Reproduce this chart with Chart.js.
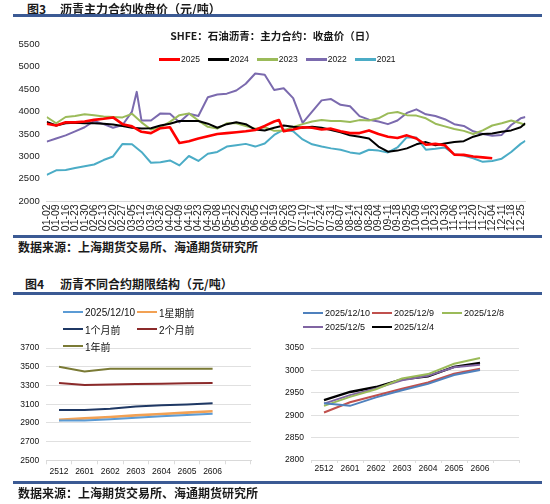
<!DOCTYPE html>
<html><head><meta charset="utf-8">
<script src="https://cdn.jsdelivr.net/npm/chart.js@4.4.1/dist/chart.umd.min.js"></script>
<style>
html,body{margin:0;padding:0;background:#fff;}
body{width:550px;height:504px;position:relative;overflow:hidden;font-family:"Liberation Sans",Arial,"Noto Sans CJK SC",sans-serif;color:#111;}
.hd{position:absolute;font-family:"Noto Sans CJK SC",sans-serif;font-weight:bold;font-size:12px;line-height:14px;color:#1a1a1a;white-space:nowrap;z-index:2;}
.rule{position:absolute;left:13px;width:529px;height:3px;background:#3b5a94;z-index:2;}
canvas{position:absolute;z-index:1;}
.lg{position:absolute;z-index:2;white-space:nowrap;}
.lg .it{display:flex;align-items:center;}
.lg .sw{display:inline-block;}
#lg1{display:flex;align-items:center;height:12px;left:159px;top:53px;font-size:8.5px;}
#lg1 .sw{width:21px;height:3px;margin-right:1px;}
#lg1 .it{margin-right:8px;}
#lg2{left:63px;top:303.5px;display:grid;grid-template-columns:74px 74px;grid-auto-rows:17px;font-size:10px;}
#lg2 .sw{width:20px;height:2px;margin-right:2px;}
#lg3{left:303px;top:305.7px;display:grid;grid-template-columns:69px 70px 70px;grid-auto-rows:14px;font-size:9px;}
#lg3 .sw{width:20px;height:2px;margin-right:2px;}
</style></head><body>
<div class="hd" style="left:27px;top:2px;">图3</div>
<div class="hd" style="left:60px;top:2px;">沥青主力合约收盘价（元/吨）</div>
<div class="rule" style="top:14px;"></div>
<div class="hd" style="left:0;width:546px;text-align:center;top:29px;font-size:10.5px;">SHFE：石油沥青：主力合约：收盘价（日）</div>
<div id="lg1" class="lg"></div>
<canvas id="c1" width="550" height="204" style="left:0;top:30px;width:550px;height:204px;"></canvas>
<div class="rule" style="top:235px;"></div>
<div class="hd" style="left:18px;top:240px;">数据来源：上海期货交易所、海通期货研究所</div>

<div class="hd" style="left:25px;top:277px;">图4</div>
<div class="hd" style="left:60px;top:277px;">沥青不同合约期限结构（元/吨）</div>
<div class="rule" style="top:292px;"></div>
<div id="lg2" class="lg"></div>
<div id="lg3" class="lg"></div>
<canvas id="c2" width="275" height="146" style="left:0;top:336px;width:275px;height:146px;"></canvas>
<canvas id="c3" width="275" height="146" style="left:275px;top:336px;width:275px;height:146px;"></canvas>
<div class="rule" style="top:481px;"></div>
<div class="hd" style="left:18px;top:486px;">数据来源：上海期货交易所、海通期货研究所</div>

<script>
// ---------- Figure 3 data ----------
const tickLabels = ['01-02','01-09','01-16','01-23','01-30','02-06','02-13','02-20','02-27','03-05','03-12','03-19','03-26','04-02','04-09','04-16','04-23','04-30','05-08','05-15','05-22','05-29','06-05','06-12','06-19','06-26','07-03','07-10','07-17','07-24','07-31','08-07','08-14','08-21','08-28','09-04','09-11','09-18','09-25','10-09','10-16','10-23','10-30','11-06','11-13','11-20','11-27','12-04','12-11','12-18','12-25'];
const yearNames = ['2025','2024','2023','2022','2021'];
// weekly samples at each tick position, plus the last trading day
const s2025 = [3730,3690,3760,3760,3780,3815,3840,3870,3720,3670,3550,3520,3630,3650,3300,3340,3400,3450,3500,3520,3540,3560,3590,3680,3780,3560,3600,3650,3640,3600,3620,3560,3520,3520,3580,3500,3440,3410,3470,3400,3260,3280,3250,3040,3035,3000,2980,2960,null,null,null,null];
const s2024 = [3770,3690,3740,3750,3740,3740,3730,3710,3680,3640,3625,3630,3690,3730,3790,3790,3790,3730,3640,3720,3760,3720,3600,3580,3640,3690,3660,3640,3660,3640,3590,3540,3470,3440,3400,3220,3105,3130,3180,3270,3320,3250,3290,3320,3340,3440,3500,3510,3550,3580,3650,3740];
const s2023 = [3880,3740,3880,3900,3940,3920,3890,3880,3870,3950,3760,3600,3650,3770,3920,3960,3800,3660,3620,3740,3740,3680,3620,3650,3570,3580,3660,3720,3780,3810,3790,3790,3770,3810,3800,3850,3960,3990,3920,3910,3850,3730,3670,3610,3570,3500,3580,3690,3740,3800,3740,3700];
const s2022 = [3330,3400,3470,3560,3650,3790,3720,3640,3700,4000,3800,3800,3960,3950,3760,3950,3900,4320,4380,4400,4470,4620,4850,4820,4480,4520,4300,3750,4000,4250,4280,4150,4120,3900,3820,3780,3720,3800,3970,4050,3940,3900,3830,3720,3680,3560,3500,3460,3480,3700,3850,3880];
const s2021 = [2590,2690,2700,2740,2780,2820,2920,3000,3280,3270,3100,2860,2870,2910,2800,3010,2900,3060,3100,3220,3250,3280,3220,3290,3480,3600,3560,3380,3270,3220,3180,3150,3090,3060,3150,3130,3090,3200,3430,3420,3150,3170,3200,3050,3020,2960,2880,2900,2950,3100,3280,3350];
// short-lived extremes between weekly samples
const midX = [9.5, 24.5];
const mid2025 = [null, 3810];
const mid2024 = [null, null];
const mid2023 = [null, null];
const mid2022 = [4440, null];
const mid2021 = [null, null];
const lastX = 50.5;

// ---------- Figure 4 data ----------
const contracts = ['2512','2601','2602','2603','2604','2605','2606',''];
const leftNames = ['2025/12/10','1星期前','1个月前','2个月前','1年前'];
const leftNow   = [2925,2925,2940,2955,2970,2985,2998];
const leftWeek  = [2932,2948,2963,2980,2995,3010,3024];
const leftMonth = [3037,3037,3052,3075,3088,3098,3110];
const left2Mon  = [3328,3305,3310,3315,3320,3325,3328];
const leftYear  = [3500,3450,3478,3478,3478,3478,3478];
const rightNames = ['2025/12/10','2025/12/9','2025/12/8','2025/12/5','2025/12/4'];
const r1210 = [2927,2921,2940,2956,2970,2990,3001];
const r1209 = [2906,2929,2944,2959,2973,2993,3004];
const r1208 = [2921,2941,2958,2982,2992,3015,3028];
const r1205 = [2926,2945,2960,2978,2988,3007,3013];
const r1204 = [2934,2952,2963,2980,2987,3008,3017];

// ---------- styles ----------
const FONT = 'Liberation Sans, Arial, sans-serif';
const yearColors = ['#ff0000','#000000','#9bbb59','#7b6aae','#4bacc6'];
const yearWidths = [2.6,2,2,2,2];
const leftColors = ['#5b9bd5','#f2a154','#1f3864','#8b2a2a','#7a7a35'];
const leftWidths = [2,2.6,2,2,2];
const rightColors = ['#4f81bd','#c0504d','#9bbb59','#8064a2','#000000'];
const rightWidths = [2,2,2,2,2.4];
const plainNum = (v) => String(v);

function legend(id, names, colors) {
  const el = document.getElementById(id);
  names.forEach((n, i) => {
    const it = document.createElement('div'); it.className = 'it';
    const sw = document.createElement('span'); sw.className = 'sw'; sw.style.background = colors[i];
    const tx = document.createElement('span'); tx.textContent = n;
    it.appendChild(sw); it.appendChild(tx); el.appendChild(it);
  });
}
legend('lg1', yearNames, yearColors);
legend('lg2', leftNames, leftColors);
legend('lg3', rightNames, rightColors);

function weekPoints(vals, mids) {
  const xs = tickLabels.map((_, i) => i).concat([lastX]);
  const pts = xs.map((x, j) => ({x: x, y: vals[j]}));
  midX.forEach((x, j) => pts.push({x: x, y: mids[j]}));
  return pts.filter(p => p.y !== null && p.y !== undefined).sort((a, b) => a.x - b.x);
}

const yearVals = [s2025, s2024, s2023, s2022, s2021];
const yearMids = [mid2025, mid2024, mid2023, mid2022, mid2021];

new Chart(document.getElementById('c1'), {
  type: 'line',
  data: {
    datasets: yearNames.map((n, i) => ({
      label: n, data: weekPoints(yearVals[i], yearMids[i]),
      borderColor: yearColors[i], backgroundColor: yearColors[i],
      borderWidth: yearWidths[i], pointRadius: 0, tension: 0, fill: false,
      borderJoinStyle: 'round'
    }))
  },
  options: {
    responsive: false, animation: false, devicePixelRatio: 1,
    layout: {padding: {top: 14.3, right: 24.6, bottom: 0, left: 0}},
    plugins: {legend: {display: false}, tooltip: {enabled: false}, title: {display: false}},
    scales: {
      x: {
        type: 'linear', min: 0, max: lastX,
        afterBuildTicks: (s) => { s.ticks = tickLabels.map((_, i) => ({value: i})); },
        afterFit: (s) => { s.height = 32.7; },
        ticks: {autoSkip: false, maxRotation: 90, minRotation: 90, padding: 3,
          font: {family: FONT, size: 10.5}, color: '#222',
          callback: (v) => tickLabels[v] !== undefined ? tickLabels[v] : ''},
        grid: {display: false, drawTicks: false},
        border: {display: true, color: '#d9d9d9', width: 1}
      },
      y: {
        min: 2000, max: 5500,
        afterFit: (s) => { s.width = 46.7; },
        ticks: {stepSize: 500, padding: 7, font: {family: FONT, size: 9.5}, color: '#222', callback: plainNum},
        grid: {display: false, drawTicks: false},
        border: {display: false}
      }
    }
  }
});

function termChart(id, names, series, colors, widths, yMin, yMax, step, pad, yW, xH, tickLen, tickPad) {
  new Chart(document.getElementById(id), {
    type: 'line',
    data: {
      labels: contracts,
      datasets: names.map((n, i) => ({
        label: n, data: series[i], borderColor: colors[i], backgroundColor: colors[i],
        borderWidth: widths[i], pointRadius: 0, tension: 0, fill: false
      }))
    },
    options: {
      responsive: false, animation: false, devicePixelRatio: 1,
      layout: {padding: pad},
      plugins: {legend: {display: false}, tooltip: {enabled: false}},
      scales: {
        x: {
          offset: true,
          afterFit: (s) => { s.height = xH; },
          ticks: {autoSkip: false, maxRotation: 0, minRotation: 0, padding: tickPad,
            font: {family: FONT, size: 8.5}, color: '#111'},
          grid: {display: true, drawOnChartArea: false, offset: true, tickLength: tickLen, color: '#dcdcdc'},
          border: {display: true, color: '#d9d9d9'}
        },
        y: {
          min: yMin, max: yMax,
          afterFit: (s) => { s.width = yW; },
          ticks: {stepSize: step, padding: 7, font: {family: FONT, size: 8.5}, color: '#111', callback: plainNum},
          grid: {color: '#e0e0e0', drawTicks: false},
          border: {display: false}
        }
      }
    }
  });
}

termChart('c2', leftNames, [leftNow, leftWeek, leftMonth, left2Mon, leftYear],
  leftColors, leftWidths, 2500, 3700, 200,
  {top: 10.3, right: 24, bottom: 0, left: 0}, 46.2, 21.7, 4, 2);
termChart('c3', rightNames, [r1210, r1209, r1208, r1205, r1204],
  rightColors, rightWidths, 2800, 3050, 50,
  {top: 9, right: 31, bottom: 0, left: 0}, 36, 22, 3, 1);
</script>
</body></html>
